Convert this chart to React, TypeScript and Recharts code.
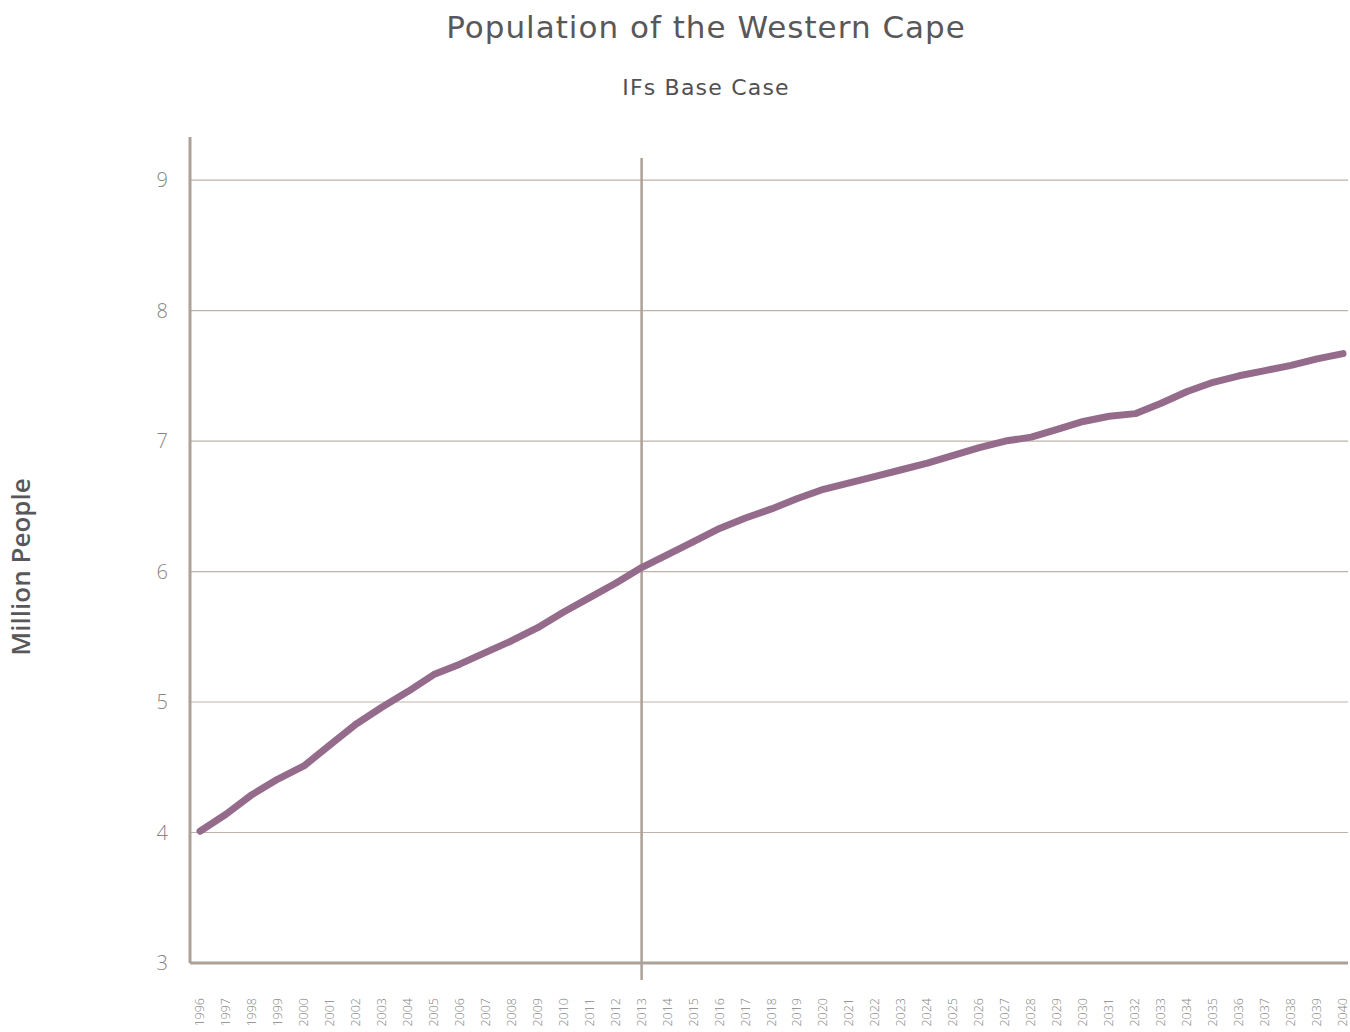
import { LineChart, Line, XAxis, YAxis, CartesianGrid, ReferenceLine } from "recharts";

const years = [
  "1996", "1997", "1998", "1999", "2000", "2001", "2002", "2003", "2004", "2005",
  "2006", "2007", "2008", "2009", "2010", "2011", "2012", "2013", "2014", "2015",
  "2016", "2017", "2018", "2019", "2020", "2021", "2022", "2023", "2024", "2025",
  "2026", "2027", "2028", "2029", "2030", "2031", "2032", "2033", "2034", "2035",
  "2036", "2037", "2038", "2039", "2040",
];

// million people, IFs base case
const population = [
  4.01, 4.14, 4.29, 4.41, 4.51, 4.67, 4.83, 4.96, 5.08, 5.21,
  5.29, 5.38, 5.47, 5.57, 5.69, 5.8, 5.91, 6.03, 6.13, 6.23,
  6.33, 6.41, 6.48, 6.56, 6.63, 6.68, 6.73, 6.78, 6.83, 6.89,
  6.95, 7.0, 7.03, 7.09, 7.15, 7.19, 7.21, 7.29, 7.38, 7.45,
  7.5, 7.54, 7.58, 7.63, 7.67,
];

const yTicks = [3, 4, 5, 6, 7, 8, 9];
const markerYear = "2013";

const data = years.map((year, i) => ({ year, value: population[i] }));

const axisColor = "#aba199";
const gridColor = "#bdb3ab";
const textColor = "#58585a";
const tickColor = "#858585";
const font = "'Open Sans', sans-serif";
const wideFont = "'DejaVu Sans', sans-serif";

function YearTick({ x, y, payload }: any) {
  return (
    <g transform={`translate(${x},${y})`}>
      <text
        transform="rotate(-90)"
        x={-33}
        y={4}
        textAnchor="end"
        fontSize={12.5}
        fill={tickColor}
        fontFamily={font}
        fontWeight={300}
      >
        {payload.value}
      </text>
    </g>
  );
}

export default function App() {
  return (
    <div style={{ position: "absolute", left: 0, top: 0, width: 1350, height: 1032, background: "#fff", overflow: "hidden" }}>
      <div
        style={{
          position: "absolute", left: 0, top: 7, width: 1412, textAlign: "center",
          fontFamily: wideFont, fontSize: 31, letterSpacing: 1, lineHeight: "40px", color: textColor,
        }}
      >
        Population of the Western Cape
      </div>
      <div
        style={{
          position: "absolute", left: 0, top: 74, width: 1412, textAlign: "center",
          fontFamily: wideFont, fontSize: 22, letterSpacing: 1.2, lineHeight: "28px", color: "#505052",
        }}
      >
        IFs Base Case
      </div>
      <div
        style={{
          position: "absolute", left: -130, top: 552, width: 300, height: 30, textAlign: "center",
          fontFamily: font, fontSize: 26, fontWeight: 600, lineHeight: "30px", color: textColor,
          transform: "rotate(-90deg)",
        }}
      >
        Million People
      </div>

      <LineChart width={1350} height={1032} data={data} margin={{ top: 137, right: 2, bottom: 39, left: 0 }}>
        <CartesianGrid vertical={false} horizontalValues={yTicks} stroke={gridColor} strokeWidth={1.2} />
        <XAxis
          dataKey="year"
          interval={0}
          height={30}
          padding={{ left: 10, right: 5 }}
          axisLine={{ stroke: axisColor, strokeWidth: 3 }}
          tickLine={false}
          tickSize={0}
          tick={<YearTick />}
        />
        <YAxis
          width={190}
          domain={[3, 9.33]}
          ticks={yTicks}
          axisLine={{ stroke: axisColor, strokeWidth: 3 }}
          tickLine={false}
          tickSize={0}
          tickMargin={22}
          tick={{ fontSize: 20, fill: tickColor, fontFamily: font, fontWeight: 300 }}
        />
        <ReferenceLine
          segment={[{ x: markerYear, y: 9.17 }, { x: markerYear, y: 2.87 }]}
          stroke={axisColor}
          strokeWidth={2.5}
          ifOverflow="visible"
        />
        <Line
          type="linear"
          dataKey="value"
          stroke="#956b8b"
          strokeWidth={7}
          strokeLinecap="round"
          strokeLinejoin="round"
          dot={false}
          activeDot={false}
          isAnimationActive={false}
        />
      </LineChart>
    </div>
  );
}
